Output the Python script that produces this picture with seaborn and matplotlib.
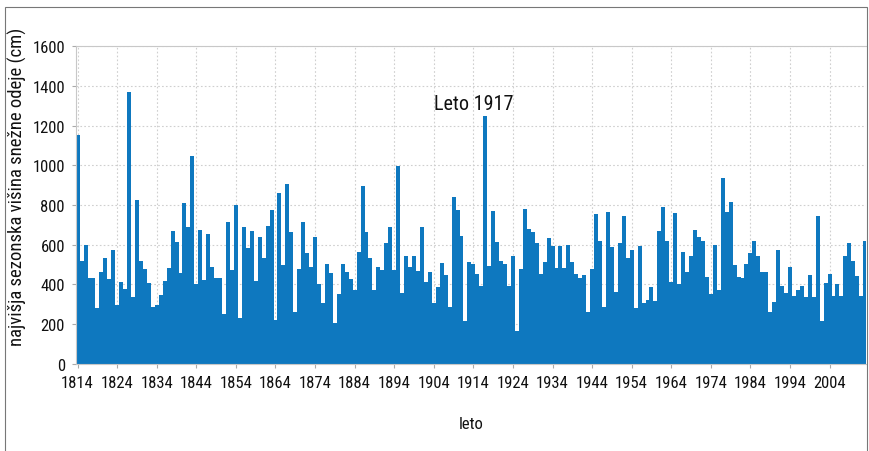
import numpy as np
import pandas as pd
import matplotlib
matplotlib.use('Agg')
import matplotlib.pyplot as plt
import seaborn as sns
from matplotlib.patches import Rectangle

# years 1814..2013, one value per season (cm)
years = list(range(1814, 2014))
snow_cm = [
    1150, 520, 600, 435, 435, 280, 465, 535, 430, 575,   # 1814-1823
    295, 415, 378, 1370, 335, 827, 520, 480, 410, 285,   # 1824-1833
    295, 347, 420, 485, 670, 612, 460, 808, 688, 1045,   # 1834-1843
    403, 676, 425, 654, 490, 431, 431, 250, 716, 473,    # 1844-1853
    800, 233, 688, 582, 671, 416, 639, 535, 696, 775,    # 1854-1863
    221, 860, 500, 906, 663, 260, 478, 713, 559, 487,    # 1864-1873
    639, 403, 307, 503, 458, 206, 352, 503, 461, 428,    # 1874-1883
    374, 562, 894, 666, 535, 374, 490, 475, 609, 688,    # 1884-1893
    475, 998, 357, 545, 487, 545, 470, 688, 411, 465,    # 1894-1903
    307, 386, 508, 448, 285, 839, 777, 643, 218, 515,    # 1904-1913
    503, 451, 391, 1247, 495, 770, 616, 518, 502, 391,   # 1914-1923
    544, 168, 478, 780, 680, 663, 609, 453, 515, 633,    # 1924-1933
    592, 482, 592, 482, 599, 515, 453, 431, 448, 260,    # 1934-1943
    478, 755, 621, 285, 763, 587, 364, 609, 747, 532,    # 1944-1953
    575, 280, 596, 307, 321, 386, 319, 671, 788, 620,    # 1954-1963
    411, 758, 403, 565, 464, 545, 676, 637, 620, 436,    # 1964-1973
    352, 600, 374, 935, 763, 814, 498, 436, 431, 502,    # 1974-1983
    559, 621, 542, 465, 461, 263, 314, 575, 394, 357,    # 1984-1993
    486, 340, 374, 391, 335, 448, 335, 746, 218, 408,    # 1994-2003
    453, 344, 403, 340, 542, 609, 520, 441, 340, 620,    # 2004-2013
]
tick_years = list(range(1814, 2005, 10))
y_ticks = list(range(0, 1601, 200))

df = pd.DataFrame({'leto': years, 'visina': snow_cm})

sns.set_style('white')
plt.rcParams['font.family'] = ['Roboto Condensed', 'DejaVu Sans']

fig = plt.figure(figsize=(8.69, 4.52), dpi=100)
ax = fig.add_axes([0.0875, 0.1925, 0.909, 0.7035])

sns.barplot(data=df, x='leto', y='visina', native_scale=True, width=1,
            color='#0e78bf', saturation=1, errorbar=None, linewidth=0, ax=ax)

ax.set_xlim(1813.6, 2013.2)
ax.set_ylim(0, 1600)
ax.set_xticks(tick_years)
ax.set_xticklabels([str(y) for y in tick_years])
ax.set_yticks(y_ticks)
ax.grid(True, color='#cfcfcf', linestyle=(0, (1.5, 2)), linewidth=0.8)
ax.set_axisbelow(True)
for s in ax.spines.values():
    s.set_color('#c8c8c8')
    s.set_linewidth(0.8)
ax.spines['right'].set_visible(False)
ax.tick_params(axis='both', labelsize=12, length=3, color='#aaaaaa', pad=5,
               labelcolor='#111111', bottom=True, left=True)

ax.set_xlabel('leto', fontsize=12, labelpad=19, color='#111111')
ax.set_ylabel('najvišja sezonska višina snežne odeje (cm)', fontsize=13.5,
              color='#111111')
ax.yaxis.set_label_coords(-0.062, 0.56)

ax.text(1914, 1310, 'Leto 1917', ha='center', va='center', fontsize=14.5,
        color='#111111')

fig.patches.append(Rectangle((0.006, -0.01), 0.992, 0.992, transform=fig.transFigure,
                             fill=False, edgecolor='#777777', linewidth=0.8))

fig.savefig('out.png', dpi=100)
